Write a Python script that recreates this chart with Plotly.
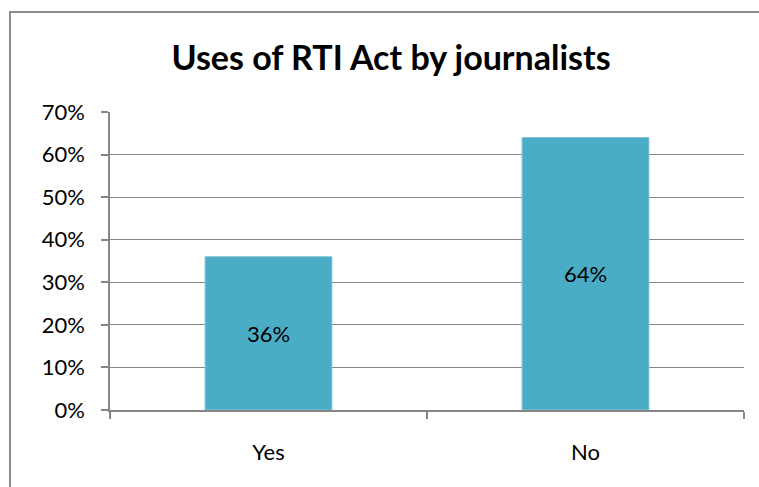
import plotly.graph_objects as go

# Survey responses: share of journalists who have used the RTI Act
categories = ["Yes", "No"]
shares = [0.36, 0.64]
labels = ["36%", "64%"]
y_ticks = [0, 0.1, 0.2, 0.3, 0.4, 0.5, 0.6, 0.7]

W, H = 759, 487
L, R, T, B = 110, 15, 112, 77
plot_w = W - L - R
plot_h = H - T - B

def px_x(p):
    return (p - L) / plot_w

def px_y(p):
    return (H - B - p) / plot_h

FONT = "Lato"
fig = go.Figure(
    go.Bar(
        x=categories,
        y=shares,
        text=labels,
        textposition="inside",
        insidetextanchor="middle",
        textfont=dict(size=22, color="black", family=FONT),
        marker=dict(color="#4BACC6", line=dict(color="#7cc3d6", width=1)),
        width=0.4,
        hoverinfo="skip",
    )
)

grey = "#868686"

fig.update_layout(
    width=W,
    height=H,
    margin=dict(l=L, r=R, t=T, b=B),
    paper_bgcolor="white",
    plot_bgcolor="white",
    showlegend=False,
    font=dict(family=FONT, size=22, color="black"),
    title=dict(
        text="<b>Uses of RTI Act by journalists</b>",
        x=391 / W,
        xanchor="center",
        y=1 - 58 / H,
        yanchor="middle",
        font=dict(size=34, family=FONT, color="black"),
    ),
    xaxis=dict(
        type="category",
        showline=True,
        linecolor=grey,
        linewidth=1.5,
        ticks="outside",
        tickson="boundaries",
        ticklen=7,
        tickcolor=grey,
        tickwidth=1.5,
        showgrid=False,
        ticklabelstandoff=22,
        tickfont=dict(size=22),
    ),
    yaxis=dict(
        range=[0, 0.7],
        tickvals=y_ticks,
        tickformat=".0%",
        showline=True,
        linecolor=grey,
        linewidth=1.5,
        ticks="outside",
        ticklen=7,
        tickcolor=grey,
        tickwidth=1.5,
        showgrid=True,
        gridcolor=grey,
        gridwidth=1,
        zeroline=False,
        ticklabelstandoff=12,
        tickfont=dict(size=22),
    ),
    shapes=[
        # outer chart border (left and top edges visible)
        dict(
            type="rect",
            xref="paper",
            yref="paper",
            x0=px_x(10),
            x1=px_x(800),
            y0=px_y(540),
            y1=px_y(12),
            line=dict(color="#8c8c8c", width=2),
            layer="below",
        )
    ],
)

fig.write_html("out.html")
